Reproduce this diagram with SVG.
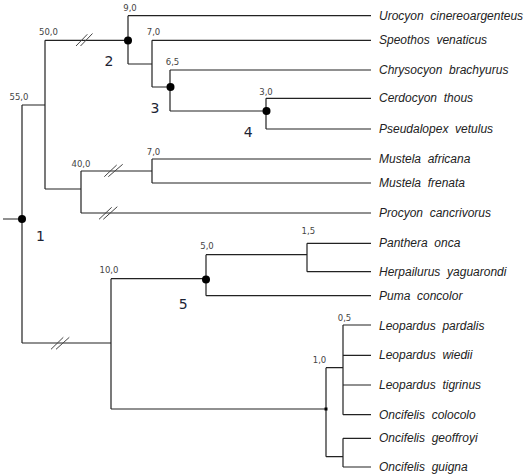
<svg xmlns="http://www.w3.org/2000/svg" width="526" height="475" viewBox="0 0 526 475">
<style>
.br{fill:none;stroke:#222;stroke-width:1.2}
.brk{stroke:#444;stroke-width:1;fill:none}
.val{font-family:"DejaVu Sans",sans-serif;font-size:8.5px;fill:#444;text-anchor:middle}
.leaf{font-family:"Liberation Sans",Arial,sans-serif;font-size:12px;font-style:italic;fill:#222;white-space:pre}
.num{font-family:"DejaVu Sans",sans-serif;font-size:14px;fill:#1c2333;text-anchor:middle}
.dot{fill:#000}
</style>
<rect width="526" height="475" fill="#fff"/>
<g id="connectors">
<path class="br" d="M3,219H22M22,105V343"/>
<path class="br" d="M22,105H45M45,40.3V189"/>
<path class="br" d="M45,40.3H128M128,15.7V64"/>
<path class="br" d="M128,15.7H371"/>
<path class="br" d="M128,64H152M152,40.3V87M152,40.3H371"/>
<path class="br" d="M152,87H170M170,70V111M170,70H371"/>
<path class="br" d="M170,111H266M266,98.3V129M266,98.3H371M266,129H371"/>
<path class="br" d="M45,189H81M81,171V213"/>
<path class="br" d="M81,171H152M152,159V183M152,159H371M152,183H371"/>
<path class="br" d="M81,213H371"/>
<path class="br" d="M22,343H111M111,278.7V409"/>
<path class="br" d="M111,278.7H206M206,254.7V295.7"/>
<path class="br" d="M206,254.7H307M307,243.3V271.7M307,243.3H371M307,271.7H371"/>
<path class="br" d="M206,295.7H371"/>
<path class="br" d="M111,409H326M326,367.7V456.7"/>
<path class="br" d="M326,367.7H343M343,325V414.7M343,325H371M343,355.3H371M343,385H371M343,414.7H371"/>
<path class="br" d="M326,456.7H343M343,438.3V467M343,438.3H371M343,467H371"/>
<path class="brk" d="M76,46L87.3,34.3M80.5,46L92.5,33.5"/>
<path class="brk" d="M104.3,176.7L116.7,165M108.3,176.7L122.7,164.3"/>
<path class="brk" d="M99,219.3L111.7,207.3M103.3,219.3L117.3,206.7"/>
<path class="brk" d="M51,349.3L63.3,337.3M56,349.3L69.3,337.3"/>
</g>
<g id="node1"><circle class="dot" cx="22" cy="219" r="4"/><text class="num" x="40.5" y="241">1</text><text class="val" x="19" y="100">55,0</text></g>
<g id="node50"><text class="val" x="48.5" y="35">50,0</text></g>
<g id="node2"><circle class="dot" cx="128" cy="40.5" r="4"/><text class="num" x="109" y="65.7">2</text><text class="val" x="130" y="11">9,0</text></g>
<g id="node7a"><text class="val" x="153.5" y="35">7,0</text></g>
<g id="node3"><circle class="dot" cx="170.5" cy="87" r="4"/><text class="num" x="155" y="112.7">3</text><text class="val" x="172.5" y="65">6,5</text></g>
<g id="node4"><circle class="dot" cx="266.5" cy="111" r="4"/><text class="num" x="248.3" y="137">4</text><text class="val" x="266" y="95">3,0</text></g>
<g id="node40"><text class="val" x="81" y="167">40,0</text></g>
<g id="node7b"><text class="val" x="153.5" y="155">7,0</text></g>
<g id="node10"><text class="val" x="109" y="273.3">10,0</text></g>
<g id="node5"><circle class="dot" cx="206" cy="279.5" r="4"/><text class="num" x="183.3" y="309">5</text><text class="val" x="207" y="249">5,0</text></g>
<g id="node15"><text class="val" x="308.3" y="234">1,5</text></g>
<g id="node10b"><rect x="324.5" y="407.5" width="3" height="3" fill="#000"/><text class="val" x="319.5" y="363.3">1,0</text></g>
<g id="node05"><text class="val" x="344.5" y="320.7">0,5</text></g>
<g id="leaves">
<text class="leaf" x="379" y="19.7">Urocyon  cinereoargenteus</text>
<text class="leaf" x="379" y="44.3">Speothos  venaticus</text>
<text class="leaf" x="379" y="74">Chrysocyon  brachyurus</text>
<text class="leaf" x="379" y="102.3">Cerdocyon  thous</text>
<text class="leaf" x="379" y="133">Pseudalopex  vetulus</text>
<text class="leaf" x="379" y="163">Mustela  africana</text>
<text class="leaf" x="379" y="187">Mustela  frenata</text>
<text class="leaf" x="379" y="217">Procyon  cancrivorus</text>
<text class="leaf" x="379" y="247.3">Panthera  onca</text>
<text class="leaf" x="379" y="275.7">Herpailurus  yaguarondi</text>
<text class="leaf" x="379" y="299.7">Puma  concolor</text>
<text class="leaf" x="379" y="329.7">Leopardus  pardalis</text>
<text class="leaf" x="379" y="359.3">Leopardus  wiedii</text>
<text class="leaf" x="379" y="389">Leopardus  tigrinus</text>
<text class="leaf" x="379" y="418.7">Oncifelis  colocolo</text>
<text class="leaf" x="379" y="442.3">Oncifelis  geoffroyi</text>
<text class="leaf" x="379" y="471">Oncifelis  guigna</text>
</g>
</svg>
